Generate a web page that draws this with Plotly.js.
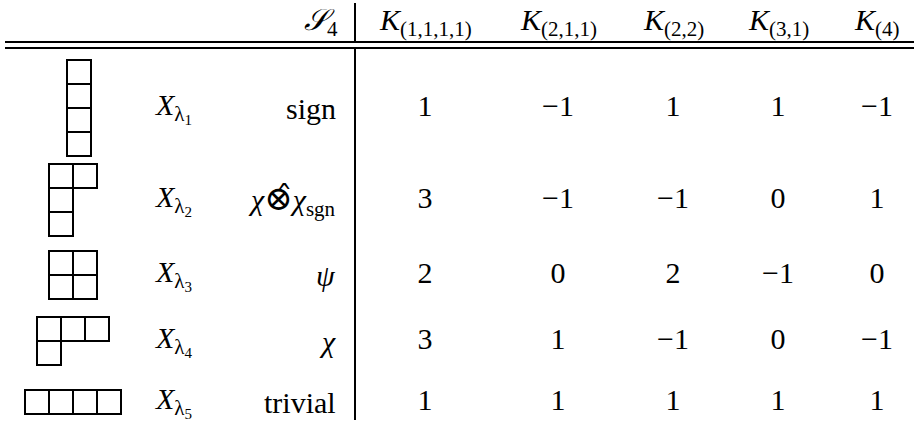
<!DOCTYPE html>
<html>
<head>
<meta charset="utf-8">
<script src="https://cdn.plot.ly/plotly-3.0.1.min.js"></script>
<style>
  html, body { margin: 0; padding: 0; background: white; }
  #chart { width: 914px; height: 423px; }
</style>
</head>
<body>
<div id="chart"></div>
<script>
/* Character table of S4 with Young diagrams */

// conjugacy classes (column headers)
const classes = ['(1,1,1,1)', '(2,1,1)', '(2,2)', '(3,1)', '(4)'];
// partitions for the Young diagrams of each row
const partitions = [[1, 1, 1, 1], [2, 1, 1], [2, 2], [3, 1], [4]];
const irrepIndex = ['1', '2', '3', '4', '5'];
const irrepNames = [
  'sign',
  '<i>χ</i><span style="font-size:34px">⊗̂</span><i>χ</i><sub>sgn</sub>',
  '<i>ψ</i>',
  '<i>χ</i>',
  'trivial',
];
// character values, one row per irrep
const characters = [
  [1, -1, 1, 1, -1],
  [3, -1, -1, 0, 1],
  [2, 0, 2, -1, 0],
  [3, 1, -1, 0, -1],
  [1, 1, 1, 1, 1],
];

/* Layout geometry (pixels) */
const W = 914, H = 423;
const colX = [425, 558, 673, 778, 877];
const rowY = [108, 200, 275, 341, 402];
const diagX = [79, 73, 73, 73, 73];
const box = 24;
const labelX = 153;
const nameRight = 338;
const ruleX = 355;
const headerY = 22;

const FONT = '"Liberation Serif", "DejaVu Serif", serif';
const fs = 30;

const fmt = function(v) {
  return v < 0 ? '\u2212' + Math.abs(v) : String(v);
};

let data = [];
for (let j = 0; j < classes.length; j++) {
  data.push({
    x: rowY.map(() => colX[j]),
    y: rowY,
    text: characters.map(r => fmt(r[j])),
    mode: 'text',
    type: 'scatter',
    textposition: 'middle center',
    textfont: { family: FONT, size: fs, color: 'black' },
    hoverinfo: 'none',
    showlegend: false,
  });
}

let shapes = [];
const line = { color: 'black', width: 2 };
// double rule under header
shapes.push({ type: 'line', xref: 'x', yref: 'y', x0: 5, x1: W, y0: 42, y1: 42, line: line });
shapes.push({ type: 'line', xref: 'x', yref: 'y', x0: 5, x1: W, y0: 48, y1: 48, line: line });
// vertical rule
shapes.push({ type: 'line', xref: 'x', yref: 'y', x0: ruleX, x1: ruleX, y0: 3, y1: 42, line: line });
shapes.push({ type: 'line', xref: 'x', yref: 'y', x0: ruleX, x1: ruleX, y0: 48, y1: 420, line: line });

// Young diagrams
partitions.forEach(function(p, i) {
  const left = diagX[i] - p[0] * box / 2;
  const top = rowY[i] - p.length * box / 2;
  p.forEach(function(len, r) {
    for (let c = 0; c < len; c++) {
      shapes.push({
        type: 'rect', xref: 'x', yref: 'y',
        x0: left + c * box, x1: left + (c + 1) * box,
        y0: top + r * box, y1: top + (r + 1) * box,
        line: line,
      });
    }
  });
});

let annotations = [];
annotations.push({
  x: nameRight + 2, y: headerY, xref: 'x', yref: 'y',
  text: '<i>𝒮</i><sub>4</sub>', showarrow: false,
  xanchor: 'right', yanchor: 'middle',
  font: { family: FONT, size: fs, color: 'black' },
});
classes.forEach(function(c, j) {
  annotations.push({
    x: colX[j], y: headerY, xref: 'x', yref: 'y',
    text: '<i>K</i><sub>' + c + '</sub>', showarrow: false,
    xanchor: 'center', yanchor: 'middle',
    font: { family: FONT, size: fs, color: 'black' },
  });
});
irrepIndex.forEach(function(k, i) {
  annotations.push({
    x: labelX, y: rowY[i], xref: 'x', yref: 'y',
    text: '<i>X</i><sub>λ<span style="font-size:15px;baseline-shift:-4px">' + k + '</span></sub>',
    showarrow: false,
    xanchor: 'left', yanchor: 'middle',
    font: { family: FONT, size: fs, color: 'black' },
  });
  annotations.push({
    x: nameRight, y: rowY[i], xref: 'x', yref: 'y',
    text: irrepNames[i], showarrow: false,
    xanchor: 'right', yanchor: 'middle',
    font: { family: FONT, size: fs, color: 'black' },
  });
});

let layout = {
  width: W,
  height: H,
  margin: { l: 0, r: 0, t: 0, b: 0, pad: 0 },
  paper_bgcolor: 'white',
  plot_bgcolor: 'white',
  showlegend: false,
  xaxis: { range: [0, W], visible: false, fixedrange: true },
  yaxis: { range: [H, 0], visible: false, fixedrange: true },
  shapes: shapes,
  annotations: annotations,
};

Plotly.newPlot('chart', data, layout, { displayModeBar: false });
</script>
</body>
</html>
